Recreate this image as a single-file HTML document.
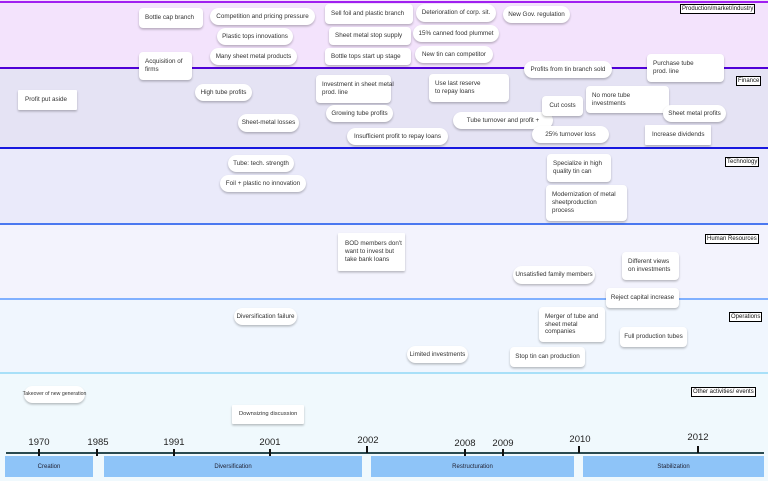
<!DOCTYPE html>
<html><head><meta charset="utf-8"><style>
*{margin:0;padding:0;box-sizing:border-box}
body{width:768px;height:481px;position:relative;overflow:hidden;font-family:"Liberation Sans",sans-serif;background:#f0f9fd}
.lane{position:absolute;left:0;width:768px}
.ln{position:absolute;left:0;width:768px}
.n{position:absolute;background:#fff;font-size:6.3px;color:#333;box-shadow:0 1.5px 2px rgba(0,0,0,.25);display:flex;align-items:center;line-height:1.25;white-space:nowrap}
.p{border-radius:9px;justify-content:center}
.r{border-radius:4px;padding-left:6px}
.s{border-radius:1px;padding-left:7px}
.lab{position:absolute;border:1px solid #000;font-size:6px;line-height:8px;padding:0 1px;background:#fff;color:#111;white-space:nowrap}
.yr{position:absolute;font-size:9.5px;color:#222;transform:translateX(-50%)}
.tk{position:absolute;width:2px;height:7px;background:#111;top:449px}
.ph{position:absolute;top:456px;height:21px;background:#8ec4f8;font-size:6px;color:#223;display:flex;align-items:center;justify-content:center}
</style></head><body>
<div class="lane" style="top:0;height:67px;background:#f3e3fc"></div>
<div class="lane" style="top:67px;height:81px;background:#e5e3f4"></div>
<div class="lane" style="top:148px;height:76px;background:#eaeafa"></div>
<div class="lane" style="top:224px;height:75px;background:#f3f3fd"></div>
<div class="lane" style="top:299px;height:74px;background:#f0f6fe"></div>
<div class="ln" style="top:1px;height:2px;background:#a020f0"></div>
<div class="ln" style="top:67px;height:2px;background:#5000d8"></div>
<div class="ln" style="top:147px;height:2px;background:#1818e0"></div>
<div class="ln" style="top:223px;height:2px;background:#4a78f0"></div>
<div class="ln" style="top:298px;height:2px;background:#80b0ff"></div>
<div class="ln" style="top:372px;height:2px;background:#a8e0f8"></div>

<div class="lab" style="left:680px;top:4px">Production/market/industry</div>
<div class="lab" style="left:736px;top:76px">Finance</div>
<div class="lab" style="left:725px;top:157px">Technology</div>
<div class="lab" style="left:705px;top:234px">Human Resources</div>
<div class="lab" style="left:729px;top:312px">Operations</div>
<div class="lab" style="left:691px;top:387px">Other activities/ events</div>

<div class="n r" style="left:139px;top:8px;width:64px;height:20px">Bottle cap branch</div>
<div class="n p" style="left:210px;top:8px;width:105px;height:17px">Competition and pricing pressure</div>
<div class="n p" style="left:217px;top:28px;width:76px;height:17px">Plastic tops innovations</div>
<div class="n p" style="left:210px;top:48px;width:87px;height:17px">Many sheet metal products</div>
<div class="n r" style="left:139px;top:52px;width:53px;height:28px;white-space:normal">Acquisition of firms</div>
<div class="n r" style="left:325px;top:4px;width:88px;height:20px">Sell foil and plastic branch</div>
<div class="n r" style="left:329px;top:27px;width:82px;height:18px">Sheet metal stop supply</div>
<div class="n r" style="left:325px;top:48px;width:86px;height:17px">Bottle tops start up stage</div>
<div class="n p" style="left:416px;top:4px;width:80px;height:18px">Deterioration of corp. sit.</div>
<div class="n p" style="left:413px;top:25px;width:86px;height:17px">15% canned food plummet</div>
<div class="n p" style="left:415px;top:46px;width:78px;height:17px">New tin can competitor</div>
<div class="n p" style="left:503px;top:6px;width:67px;height:17px">New Gov. regulation</div>
<div class="n p" style="left:524px;top:61px;width:88px;height:17px">Profits from tin branch sold</div>
<div class="n r" style="left:647px;top:54px;width:77px;height:28px;white-space:normal">Purchase tube<br>prod. line</div>

<div class="n s" style="left:18px;top:90px;width:59px;height:20px">Profit put aside</div>
<div class="n p" style="left:195px;top:84px;width:57px;height:17px">High tube profits</div>
<div class="n p" style="left:238px;top:114px;width:61px;height:18px">Sheet-metal losses</div>
<div class="n r" style="left:316px;top:75px;width:75px;height:28px">Investment in sheet metal<br>prod. line</div>
<div class="n p" style="left:326px;top:105px;width:67px;height:17px">Growing tube profits</div>
<div class="n p" style="left:347px;top:128px;width:101px;height:17px">Insufficient profit to repay loans</div>
<div class="n r" style="left:429px;top:74px;width:80px;height:28px">Use last reserve<br>to repay loans</div>
<div class="n p" style="left:453px;top:112px;width:100px;height:17px">Tube turnover and profit +</div>
<div class="n r" style="left:542px;top:96px;width:41px;height:20px;justify-content:center;padding:0">Cut costs</div>
<div class="n r" style="left:586px;top:86px;width:83px;height:27px">No more tube<br>investments</div>
<div class="n p" style="left:532px;top:126px;width:77px;height:17px">25% turnover loss</div>
<div class="n p" style="left:663px;top:105px;width:63px;height:17px">Sheet metal profits</div>
<div class="n s" style="left:645px;top:125px;width:66px;height:20px">Increase dividends</div>

<div class="n p" style="left:228px;top:155px;width:66px;height:17px">Tube: tech. strength</div>
<div class="n p" style="left:220px;top:175px;width:86px;height:17px">Foil + plastic no innovation</div>
<div class="n r" style="left:547px;top:154px;width:64px;height:28px">Specialize in high<br>quality tin can</div>
<div class="n r" style="left:546px;top:185px;width:81px;height:36px">Modernization of metal<br>sheetproduction<br>process</div>

<div class="n s" style="left:338px;top:233px;width:67px;height:38px">BOD members don't<br>want to invest but<br>take bank loans</div>
<div class="n p" style="left:513px;top:266px;width:82px;height:18px">Unsatisfied family members</div>
<div class="n r" style="left:622px;top:252px;width:57px;height:28px">Different views<br>on investments</div>
<div class="n r" style="left:606px;top:288px;width:73px;height:20px;justify-content:center;padding:0">Reject capital increase</div>

<div class="n p" style="left:234px;top:308px;width:63px;height:17px">Diversification failure</div>
<div class="n r" style="left:539px;top:307px;width:66px;height:35px">Merger of tube and<br>sheet metal<br>companies</div>
<div class="n p" style="left:407px;top:346px;width:61px;height:17px">Limited investments</div>
<div class="n r" style="left:510px;top:347px;width:75px;height:20px;justify-content:center;padding:0">Stop tin can production</div>
<div class="n r" style="left:620px;top:327px;width:67px;height:20px;justify-content:center;padding:0">Full production tubes</div>

<div class="n p" style="left:24px;top:386px;width:61px;height:17px;font-size:5.2px;padding:0 3px">Takeover of new generation</div>
<div class="n s" style="left:232px;top:405px;width:72px;height:19px;font-size:5.8px">Downsizing discussion</div>

<div style="position:absolute;left:6px;top:452px;width:758px;height:2px;background:#2a4a50"></div>
<div class="yr" style="left:39px;top:437px">1970</div>
<div class="yr" style="left:98px;top:437px">1985</div>
<div class="yr" style="left:174px;top:437px">1991</div>
<div class="yr" style="left:270px;top:437px">2001</div>
<div class="yr" style="left:368px;top:435px">2002</div>
<div class="yr" style="left:465px;top:438px">2008</div>
<div class="yr" style="left:503px;top:438px">2009</div>
<div class="yr" style="left:580px;top:434px">2010</div>
<div class="yr" style="left:698px;top:432px">2012</div>
<div class="tk" style="left:38px"></div><div class="tk" style="left:96px"></div>
<div class="tk" style="left:173px"></div><div class="tk" style="left:269px"></div>
<div class="tk" style="left:366px;top:446px"></div><div class="tk" style="left:464px"></div>
<div class="tk" style="left:502px"></div><div class="tk" style="left:578px;top:446px"></div>
<div class="tk" style="left:697px;top:446px"></div>
<div class="ph" style="left:5px;width:88px">Creation</div>
<div class="ph" style="left:104px;width:258px">Diversification</div>
<div class="ph" style="left:371px;width:203px">Restructuration</div>
<div class="ph" style="left:583px;width:181px">Stabilization</div>
</body></html>
